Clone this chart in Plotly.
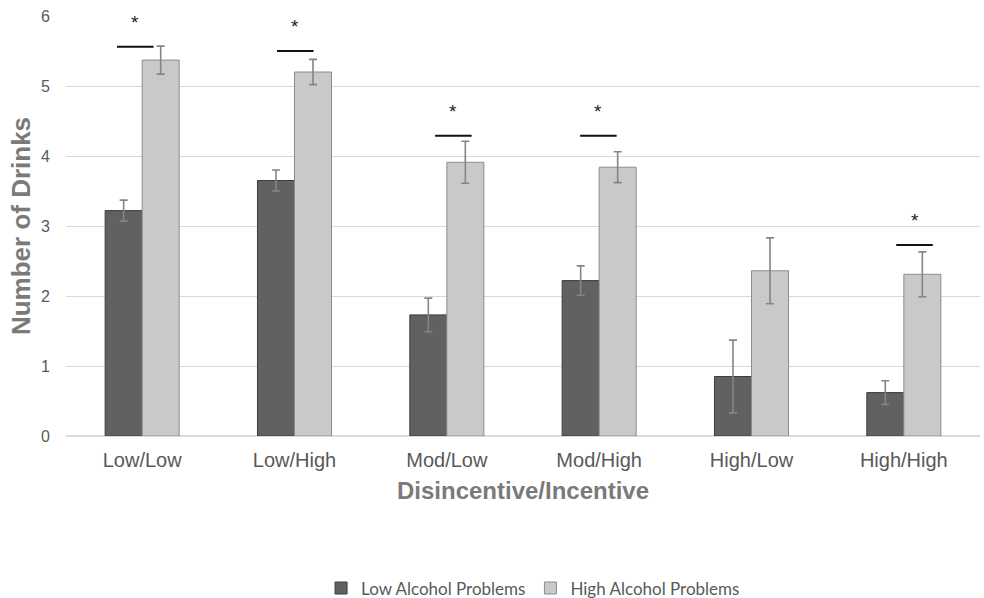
import plotly.graph_objects as go

# Conditions (disincentive level / incentive level)
conditions = ["Low/Low", "Low/High", "Mod/Low", "Mod/High", "High/Low", "High/High"]

# Mean number of drinks and standard errors per drinker group
low_problems_mean = [3.22, 3.65, 1.73, 2.22, 0.85, 0.62]
low_problems_se = [0.15, 0.15, 0.24, 0.21, 0.52, 0.17]
high_problems_mean = [5.37, 5.20, 3.91, 3.84, 2.36, 2.31]
high_problems_se = [0.20, 0.18, 0.30, 0.22, 0.47, 0.32]

# Conditions with a significant group difference, and the height of the marker bar
sig_conditions = ["Low/Low", "Low/High", "Mod/Low", "Mod/High", "High/High"]
sig_bar_level = [5.56, 5.50, 4.29, 4.29, 2.73]

# Horizontal nudge of each significance marker from the category centre (category units)
sig_shift = [-0.045, 0.005, 0.043, -0.005, 0.07]

DARK = "#616163"
LIGHT = "#c8c9cb"

fig = go.Figure()
fig.add_trace(go.Bar(
    x=conditions, y=low_problems_mean, name="Low Alcohol Problems",
    marker=dict(color=DARK, line=dict(color="#3c3c3e", width=1)),
    error_y=dict(type="data", array=low_problems_se, color="#858585",
                 thickness=1.6, width=4),
))
fig.add_trace(go.Bar(
    x=conditions, y=high_problems_mean, name="High Alcohol Problems",
    marker=dict(color=LIGHT, line=dict(color="#8c8c8c", width=1)),
    error_y=dict(type="data", array=high_problems_se, color="#858585",
                 thickness=1.6, width=4),
))

# Significance markers: a short black bar with an asterisk above it
for cond, level, shift in zip(sig_conditions, sig_bar_level, sig_shift):
    xc = conditions.index(cond) + shift
    fig.add_shape(type="line", xref="x", yref="y",
                  x0=xc - 0.12, x1=xc + 0.12, y0=level, y1=level,
                  line=dict(color="#111111", width=2))
    fig.add_annotation(x=xc, y=level, xref="x", yref="y", text="*",
                       showarrow=False, yanchor="bottom", yshift=12,
                       font=dict(family="Liberation Sans, Arial", size=19,
                                 color="#222222"))

fig.update_layout(
    width=984, height=598,
    margin=dict(l=66, r=4, t=16, b=162, autoexpand=False),
    paper_bgcolor="white", plot_bgcolor="white",
    barmode="group", bargap=0.514, bargroupgap=0,
    font=dict(family="Liberation Sans, Arial", color="#595959"),
    showlegend=True,
    legend=dict(orientation="h", x=0.511, xanchor="center", y=-0.363,
                yanchor="middle", font=dict(family="Lato, Open Sans", size=17,
                                            color="#595959"),
                itemwidth=30, tracegroupgap=0),
    xaxis=dict(
        showgrid=False, showline=False, ticks="", ticklabelstandoff=10,
        tickfont=dict(size=20, color="#595959"),
        title=dict(text="<b>Disincentive/Incentive</b>",
                   font=dict(size=24, color="#7a7a7a"), standoff=12),
    ),
    yaxis=dict(
        range=[0, 6], dtick=1, showgrid=True, gridcolor="#d9d9d9",
        gridwidth=1, zeroline=True, zerolinecolor="#d9d9d9", zerolinewidth=2,
        showline=False, ticks="", ticklabelstandoff=15,
        tickfont=dict(size=16, color="#595959"),
        title=dict(text="<b>Number of Drinks</b>",
                   font=dict(size=26, color="#7a7a7a"), standoff=2),
    ),
)

fig.write_html("out.html")
